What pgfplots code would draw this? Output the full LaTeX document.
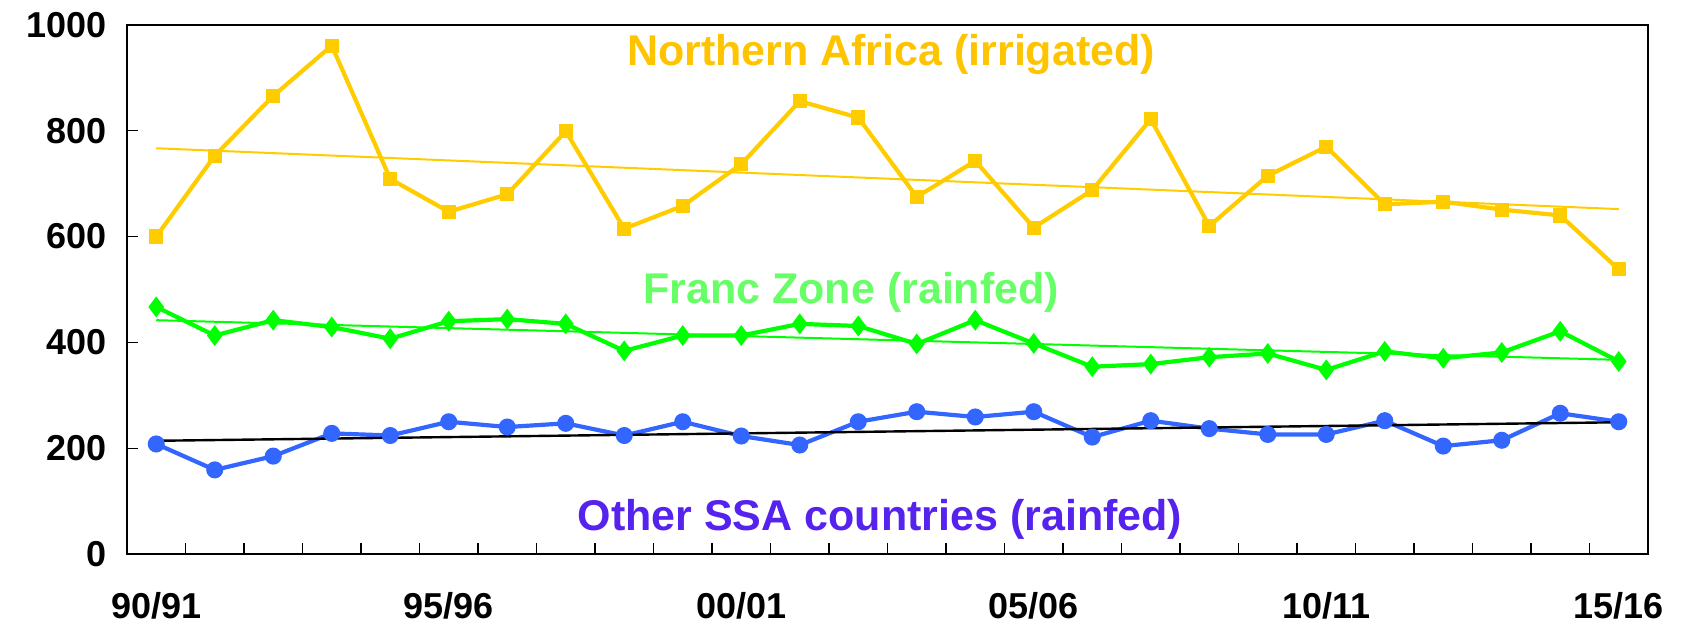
\documentclass[border=0pt]{standalone}
\usepackage{fontspec}
\setmainfont{Liberation Sans}
\usepackage{pgfplots}
\pgfplotsset{compat=1.18}
\definecolor{gold}{HTML}{FFCC00}
\definecolor{goldtxt}{HTML}{FFC400}
\definecolor{lime}{HTML}{00FF00}
\definecolor{limetxt}{HTML}{66FF66}
\definecolor{blu}{HTML}{3366FF}
\definecolor{purp}{HTML}{5522EE}
\begin{document}
\begin{tikzpicture}
\begin{axis}[name=ax, scale only axis, width=760.5pt, height=264.5pt,
 xmin=-0.5, xmax=25.5, ymin=0, ymax=1000,
 xtick={0.5,1.5,...,24.5}, xticklabels={},
 extra x ticks={0,5,10,15,20,25},
 extra x tick labels={90/91,95/96,00/01,05/06,10/11,15/16},
 extra x tick style={major tick length=0pt},
 ytick={0,200,...,1000},
 tick align=inside,
 major tick length=5.6pt,
 xtick pos=bottom, ytick pos=left,
 axis line style={line width=1pt},
 tick style={line width=0.6pt, black},
 ticklabel style={font=\fontsize{18}{20}\selectfont\bfseries},
 /pgf/number format/assume math mode=true,
 /pgf/number format/1000 sep={},
 yticklabel style={xshift=-6.5pt},
 xticklabel style={yshift=-15.5pt},
 clip=false,
]
% Northern Africa (irrigated)
\addplot[gold, line width=2.1pt, mark=square*, mark size=2.5pt, mark options={solid, fill=gold, draw=gold}] coordinates {
(0,600) (1,753) (2,866) (3,961) (4,709) (5,647) (6,680) (7,799) (8,615) (9,658)
(10,737) (11,856) (12,825) (13,675) (14,743) (15,617) (16,688) (17,822) (18,620) (19,715)
(20,770) (21,661) (22,666) (23,651) (24,640) (25,538)};
% Franc Zone (rainfed)
\addplot[lime, line width=2.1pt, mark=diamond*, mark size=3.5pt, mark options={solid, fill=lime, draw=lime}] coordinates {
(0,467) (1,413) (2,442) (3,429) (4,407) (5,440) (6,444) (7,435) (8,384) (9,413)
(10,413) (11,435) (12,431) (13,397) (14,442) (15,398) (16,354) (17,359) (18,372) (19,379)
(20,348) (21,383) (22,370) (23,381) (24,421) (25,364)};
% Other SSA countries (rainfed)
\addplot[blu, line width=2.1pt, mark=*, mark size=3.2pt, mark options={solid, fill=blu, draw=blu}] coordinates {
(0,208) (1,159) (2,185) (3,228) (4,224) (5,250) (6,240) (7,247) (8,224) (9,250)
(10,223) (11,206) (12,250) (13,269) (14,259) (15,269) (16,221) (17,252) (18,237) (19,226)
(20,226) (21,252) (22,204) (23,215) (24,266) (25,250)};
% trend lines
\addplot[gold, line width=1pt] coordinates {(0,767) (25,652)};
\addplot[lime, line width=1pt] coordinates {(0,442) (25,367)};
\addplot[black, line width=1.2pt] coordinates {(0,214) (25,249)};
\node[anchor=base, text=goldtxt, font=\fontsize{21.5}{24}\selectfont\bfseries] at (axis cs:12.56,924) {Northern Africa (irrigated)};
\node[anchor=base, text=limetxt, font=\fontsize{21.5}{24}\selectfont\bfseries] at (axis cs:11.88,474) {Franc Zone (rainfed)};
\node[anchor=base, text=purp, font=\fontsize{21.5}{24}\selectfont\bfseries] at (axis cs:12.37,44) {Other SSA countries (rainfed)};
\end{axis}
\path ([xshift=-63.5pt,yshift=-38.5pt]ax.south west) rectangle ([xshift=19pt,yshift=12.5pt]ax.north east);
\end{tikzpicture}
\end{document}
